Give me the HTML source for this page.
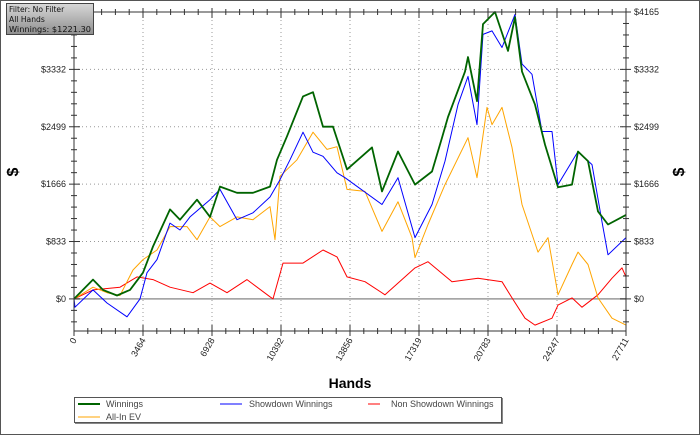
<!DOCTYPE html>
<html><head><meta charset="utf-8"><style>
html,body{margin:0;padding:0;background:#fff}
#wrap{position:relative;width:700px;height:435px;overflow:hidden}
svg text{font-family:"Liberation Sans",sans-serif}
</style></head><body>
<div id="wrap">
<svg id="chart" width="700" height="435" viewBox="0 0 700 435">
<defs><linearGradient id="ig" x1="0" y1="0" x2="0" y2="1"><stop offset="0" stop-color="#d8d8d8"/><stop offset="1" stop-color="#8e8e8e"/></linearGradient></defs>
<rect x="0.5" y="0.5" width="699" height="434" fill="#fff" stroke="#555"/>
<g id="grid"></g>
<g id="series"></g>
<g id="axes"></g>
<text x="18" y="172" font-size="16" font-weight="bold" text-anchor="middle" transform="rotate(-90 18 172)">$</text>
<text x="684" y="172" font-size="16" font-weight="bold" text-anchor="middle" transform="rotate(-90 684 172)">$</text>
<text x="350" y="388" font-size="14" font-weight="bold" text-anchor="middle">Hands</text>
<g>
<rect x="6.5" y="3.5" width="87" height="31" fill="url(#ig)" stroke="#444"/>
<text x="9" y="12" font-size="7.6" style="font-family:'DejaVu Sans',sans-serif" fill="#111">Filter: No Filter</text>
<text x="9" y="22" font-size="7.6" style="font-family:'DejaVu Sans',sans-serif" fill="#111">All Hands</text>
<text x="9" y="32" font-size="7.6" style="font-family:'DejaVu Sans',sans-serif" fill="#111" textLength="82" lengthAdjust="spacingAndGlyphs">Winnings: $1221.30</text>
</g>
<g>
<rect x="75" y="398" width="428" height="26" fill="#888"/>
<rect x="74.5" y="397.5" width="427" height="25" fill="#fff" stroke="#555"/>
<line x1="78" y1="404" x2="100" y2="404" stroke="#006400" stroke-width="2"/>
<text x="106" y="407" font-size="9" fill="#444">Winnings</text>
<line x1="220" y1="404" x2="242" y2="404" stroke="#0000ff"/>
<text x="249" y="407" font-size="9" fill="#444">Showdown Winnings</text>
<line x1="368" y1="404" x2="380" y2="404" stroke="#ff0000"/>
<text x="391" y="407" font-size="9" fill="#444">Non Showdown Winnings</text>
<line x1="78" y1="417" x2="100" y2="417" stroke="#ffa500"/>
<text x="106" y="420" font-size="9" fill="#444">All-In EV</text>
</g>
</svg>
</div>
<script>
const xTicks = [0,3464,6928,10392,13856,17319,20783,24247,27711];
const yTicks = [0,833,1666,2499,3332,4165];
const yTickLabels = ["$0","$833","$1666","$2499","$3332","$4165"];
const winHands = [0,954,1456,2159,2811,3464,3966,4819,5321,6175,6827,7329,8183,8986,9839,10191,10693,11496,11998,12500,13002,13705,14960,15462,16265,17118,17972,18474,18775,19628,19779,20231,20532,21134,21787,22138,22490,23142,23644,24297,24999,25301,25803,26305,26807,27711];
const winVals = [0,280,130,50,130,380,760,1300,1150,1440,1190,1630,1540,1540,1630,2020,2360,2940,3000,2500,2500,1880,2200,1560,2140,1660,1850,2340,2640,3300,3510,2870,3990,4165,3600,4090,3300,2820,2240,1620,1660,2140,2000,1270,1080,1220];
const sdHands = [0,50,954,1657,2661,3313,3665,4167,4819,5321,5823,6827,7329,8183,8986,9839,10341,10843,11496,11998,12500,13203,13604,15462,16265,17118,17972,18624,19277,19779,20231,20532,20984,21486,22138,22490,22992,23494,23996,24297,25301,26004,26506,26807,27711];
const sdVals = [0,-120,130,-60,-260,0,380,570,1100,1000,1190,1440,1590,1150,1250,1480,1730,2020,2420,2130,2070,1830,1760,1370,1760,890,1370,2000,2820,3230,2530,3840,3890,3650,4130,3410,3260,2430,2430,1660,2140,1950,1120,640,890];
const evHands = [0,954,1657,2309,2962,3464,4167,4819,5673,6175,6827,7329,8183,8986,9839,10090,10341,11195,11998,12701,13203,13705,14608,15462,16265,16968,17118,17771,18624,19779,20231,20733,20984,21486,21988,22490,23293,23795,24297,24999,25301,25803,26305,27008,27711];
const evVals = [0,170,90,50,420,570,710,1050,1050,860,1190,1050,1190,1150,1340,860,1780,2020,2420,2170,2210,1590,1560,980,1410,890,600,1080,1660,2340,1760,2780,2530,2780,2200,1370,680,890,60,500,680,500,15,-280,-380];
const nsdHands = [0,954,2309,3163,3966,4819,5974,6827,7681,8685,9839,9990,10492,11496,12500,13203,13705,14608,15612,17118,17771,18976,20281,21486,21988,22641,23142,23996,24297,24999,25502,26305,27008,27510,27711];
const nsdVals = [0,130,170,320,280,170,90,230,90,280,30,0,520,520,710,610,320,250,60,450,540,250,300,250,15,-280,-380,-280,-90,15,-120,60,300,450,320];

const L=74,R=626,T=12,B=331,yMin=-466,yMax=4165,xMax=27711;
const xS=h=>L+(h/xMax)*(R-L);
const yS=v=>B-(v-yMin)/(yMax-yMin)*(B-T);
const NS='http://www.w3.org/2000/svg';
function mk(tag,attrs,parent){const e=document.createElementNS(NS,tag);for(const k in attrs)e.setAttribute(k,attrs[k]);parent.appendChild(e);return e;}
const grid=document.getElementById('grid'),axes=document.getElementById('axes'),ser=document.getElementById('series');

xTicks.forEach((t,i)=>{const x=xS(t);
 if(i>0&&i<xTicks.length-1){const g=mk('line',{x1:x,y1:T,x2:x,y2:B,stroke:'#999','stroke-dasharray':'1,3'},grid);
 
 }
 const tk=mk('line',{x1:x,y1:B-6,x2:x,y2:B+5,stroke:'#333'},axes);
 
 
 mk('line',{x1:x,y1:T-4,x2:x,y2:T+6,stroke:'#333'},axes);
 const lb=mk('text',{x:x+3,y:B+9,'font-size':9,'text-anchor':'end',fill:'#222',transform:`rotate(-60 ${x+3} ${B+9})`},axes);
 lb.textContent=t;
 
 
 if(i<xTicks.length-1){for(let m=1;m<5;m++){const xm=xS(t+(xTicks[i+1]-t)*m/5);
  mk('line',{x1:xm,y1:B-3,x2:xm,y2:B+3,stroke:'#333'},axes);
  mk('line',{x1:xm,y1:T-3,x2:xm,y2:T+3,stroke:'#333'},axes);}}
});
yTicks.forEach((t,i)=>{const y=yS(t);
 if(t===0){const z=mk('line',{x1:L,y1:y,x2:R,y2:y,stroke:'#999','stroke-width':1.5},grid);
  
  }
 else if(i<yTicks.length-1){const g=mk('line',{x1:L,y1:y,x2:R,y2:y,stroke:'#999','stroke-dasharray':'1,3'},grid);
  
  }
 mk('line',{x1:L-5,y1:y,x2:L+6,y2:y,stroke:'#333'},axes);
 mk('line',{x1:R-6,y1:y,x2:R+5,y2:y,stroke:'#333'},axes);
 const a=mk('text',{x:L-8,y:y+3,'font-size':9,'text-anchor':'end',fill:'#222'},axes);a.textContent=yTickLabels[i];
 
 
 const b=mk('text',{x:R+8,y:y+3,'font-size':9,fill:'#222'},axes);b.textContent=yTickLabels[i];
 
 
});
for(let k=-2;k<=25;k++){const v=k*833/5;if(v<yMin||v>yMax||k%5===0)continue;const y=yS(v);
 mk('line',{x1:L-3,y1:y,x2:L+3,y2:y,stroke:'#333'},axes);mk('line',{x1:R-3,y1:y,x2:R+3,y2:y,stroke:'#333'},axes);}
const fr=mk('path',{d:`M${L} ${T}V${B}H${R}V${T}H${L}`,fill:'none',stroke:'#333'},axes);



function series(h,v,color,w,name){
 const pts=h.map((x,i)=>xS(x).toFixed(1)+','+Math.max(T,Math.min(B,yS(v[i]))).toFixed(1)).join(' ');
 const p=mk('polyline',{points:pts,fill:'none',stroke:color,'stroke-width':w,'stroke-linejoin':'round'},ser);
 
 
}
series(nsdHands,nsdVals,'#ff0000',1,'non-showdown-winnings-line');
series(evHands,evVals,'#ffa500',1,'allin-ev-line');
series(sdHands,sdVals,'#0000ff',1,'showdown-winnings-line');
series(winHands,winVals,'#006400',1.8,'winnings-line');
</script>
</body></html>
